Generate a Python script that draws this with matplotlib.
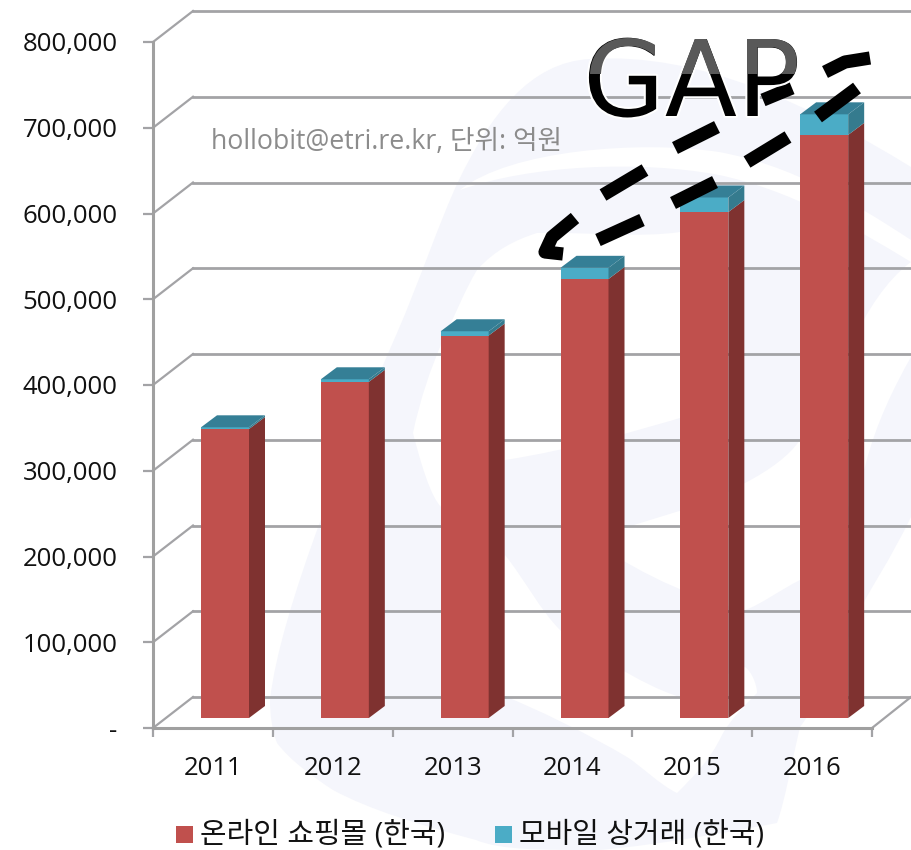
import matplotlib
matplotlib.use("Agg")
import matplotlib.pyplot as plt
import matplotlib.patheffects as pe
from matplotlib.patches import PathPatch, Polygon, Rectangle
from matplotlib.path import Path

plt.rcParams['font.family'] = ['Open Sans', 'Noto Sans CJK KR', 'DejaVu Sans']

years = ['2011', '2012', '2013', '2014', '2015', '2016']
online = [337000, 392000, 446000, 512000, 590000, 680000]
mobile = [2000, 3000, 5000, 13000, 17000, 24000]
y_ticks = [0, 100000, 200000, 300000, 400000, 500000, 600000, 700000, 800000]
y_labels = ['-', '100,000', '200,000', '300,000', '400,000', '500,000', '600,000', '700,000', '800,000']

W, H = 911, 850
fig = plt.figure(figsize=(W / 100, H / 100), dpi=100)

# background layer in pixel coords (watermark)
bg = fig.add_axes([0, 0, 1, 1], zorder=0)
bg.set_xlim(0, W)
bg.set_ylim(H, 0)
bg.axis('off')

PALE = '#f5f6fc'


def smooth(start, curves):
    # start point + list of cubic segments
    verts = [start]
    codes = [Path.MOVETO]
    for c in curves:
        verts += list(c)
        codes += [Path.CURVE4] * 3
    verts.append(start)
    codes.append(Path.CLOSEPOLY)
    return Path(verts, codes)


# pale silhouette of the logo, white cuts go on top of it
shape = smooth((270, 700), [
    ((280, 610), (350, 440), (397, 333)),
    ((420, 280), (440, 220), (458, 182)),
    ((490, 115), (530, 62), (590, 59)),
    ((700, 52), (810, 105), (911, 167)),
    ((911, 280), (911, 400), (911, 517)),
    ((890, 560), (870, 590), (865, 600)),
    ((840, 660), (820, 700), (800, 727)),
    ((790, 770), (785, 800), (777, 823)),
    ((740, 830), (660, 845), (599, 850)),
    ((540, 850), (500, 850), (476, 840)),
    ((420, 825), (370, 810), (333, 790)),
    ((310, 775), (290, 760), (277, 743)),
    ((272, 730), (270, 715), (270, 700)),
])
bg.add_patch(PathPatch(shape, fc=PALE, ec='none'))

cuts = [
    # thin stripe under the top arc
    smooth((460, 190), [((510, 150), (640, 140), (719, 152)),
                        ((790, 165), (850, 200), (911, 240)),
                        ((911, 248), (911, 255), (911, 262)),
                        ((850, 225), (790, 190), (719, 175)),
                        ((640, 160), (530, 165), (460, 190))]),
    # inner white area
    smooth((477, 270), [((495, 250), (515, 240), (537, 233)),
                        ((590, 232), (640, 238), (680, 232)),
                        ((705, 270), (715, 360), (690, 415)),
                        ((640, 430), (570, 450), (505, 460)),
                        ((480, 480), (460, 500), (445, 510)),
                        ((435, 505), (425, 480), (413, 433)),
                        ((420, 400), (430, 370), (443, 340)),
                        ((455, 315), (465, 290), (477, 270))]),
    # white swoosh on the right
    smooth((590, 540), [((640, 520), (700, 510), (745, 483)),
                        ((770, 470), (790, 455), (800, 440)),
                        ((840, 380), (860, 300), (911, 262)),
                        ((911, 290), (911, 330), (911, 357)),
                        ((895, 385), (875, 425), (865, 467)),
                        ((850, 510), (825, 555), (800, 580)),
                        ((780, 590), (760, 605), (745, 610)),
                        ((700, 600), (650, 580), (590, 540))]),
    # lower white wedge
    smooth((505, 555), [((525, 580), (540, 610), (560, 630)),
                        ((590, 650), (640, 685), (680, 697)),
                        ((705, 690), (730, 670), (745, 667)),
                        ((752, 672), (757, 685), (757, 693)),
                        ((745, 705), (730, 720), (722, 735)),
                        ((710, 760), (695, 775), (677, 793)),
                        ((660, 785), (640, 765), (627, 757)),
                        ((590, 735), (540, 710), (490, 690)),
                        ((490, 650), (495, 600), (505, 555))]),
]
for c in cuts:
    bg.add_patch(PathPatch(c, fc='white', ec='none'))

# plot axes, y value / category units through the scales
ax = fig.add_axes([153 / W, 1 - 728 / H, (872 - 153) / W, (728 - 42) / H], zorder=1)
ax.patch.set_alpha(0)
ax.set_xlim(0, 6)
ax.set_ylim(0, 800000)
for s in ['top', 'right']:
    ax.spines[s].set_visible(False)
for s in ['left', 'bottom']:
    ax.spines[s].set_color('#a0a0a0')
    ax.spines[s].set_linewidth(2.2)

per_x = 6 / (872 - 153)
per_y = 800000 / (728 - 42)
back_dx, back_dy = 40 * per_x, 31 * per_y

GRID = '#a3a3a6'
for v in y_ticks:
    ax.plot([0, back_dx], [v, v + back_dy], color=GRID, lw=1.6, clip_on=False, zorder=1)
    ax.plot([back_dx, (W - 153) * per_x], [v + back_dy, v + back_dy], color=GRID, lw=2, clip_on=False, zorder=1)
ax.plot([6, (W - 153) * per_x], [0, back_dy], color=GRID, lw=1.6, clip_on=False, zorder=1)

ax.set_xticks(range(7))
ax.set_xticklabels([])
ax.set_yticks(y_ticks)
ax.set_yticklabels(y_labels)
ax.tick_params(axis='y', length=7.5, width=1.6, color=GRID, labelsize=18.5, pad=18, labelcolor='#111111')
ax.tick_params(axis='x', length=6.5, width=1.6, color=GRID)
for i, yr in enumerate(years):
    ax.text(i + 0.5, -47000, yr, ha='center', va='center', fontsize=18.5, color='#111111')

# 3D bars
RED, RED_SIDE = '#c0504d', '#7f3230'
BLUE, BLUE_SIDE, BLUE_TOP = '#4bacc6', '#357b8e', '#357f96'
bar_w = 48 * per_x
off_x, off_y = 48 * per_x, 10 * per_y
dep_x, dep_y = 16 * per_x, 12 * per_y


def box(x, y0, y1, front, side):
    ax.add_patch(Rectangle((x, y0), bar_w, y1 - y0, fc=front, ec='none', zorder=3, clip_on=False))
    r = x + bar_w
    ax.add_patch(Polygon([(r, y0), (r + dep_x, y0 + dep_y), (r + dep_x, y1 + dep_y), (r, y1)],
                         fc=side, ec='none', zorder=3, clip_on=False))


for i in range(len(years)):
    x = i + off_x
    a = online[i] + off_y
    b = a + mobile[i]
    box(x, off_y, a, RED, RED_SIDE)
    box(x, a, b, BLUE, BLUE_SIDE)
    ax.add_patch(Polygon([(x, b), (x + bar_w, b), (x + bar_w + dep_x, b + dep_y), (x + dep_x, b + dep_y)],
                         fc=BLUE_TOP, ec='none', zorder=3, clip_on=False))

# top layer
top = fig.add_axes([0, 0, 1, 1], zorder=2)
top.set_xlim(0, W)
top.set_ylim(H, 0)
top.axis('off')

top.text(211, 142, 'hollobit@etri.re.kr, 단위: 억원', fontsize=19.2, color='#8c8c8c', va='center', ha='left')

dashes = [[(870, 58), (845, 62), (825, 72)],
          [(792, 88), (763, 100)],
          [(717, 127), (675, 148)],
          [(645, 170), (603, 195)],
          [(575, 218), (552, 237), (545, 252), (563, 254)],
          [(857, 88), (818, 117)],
          [(788, 137), (747, 162)],
          [(715, 182), (673, 203)],
          [(642, 220), (598, 240)]]
for seg in dashes:
    top.plot([p[0] for p in seg], [p[1] for p in seg], color='black', lw=9.5,
             solid_capstyle='butt', solid_joinstyle='round')

gap_kw = dict(fontsize=76, ha='left', va='baseline', family=['DejaVu Sans'])
t1 = top.text(583, 116, 'GAP', color='black',
              path_effects=[pe.withStroke(linewidth=3, foreground='white')], **gap_kw)
t2 = top.text(583, 116, 'GAP', color='#595959', **gap_kw)
t2.set_clip_path(Rectangle((0, 0), W, 74, transform=top.transData))
t2.set_clip_on(True)

# legend
top.add_patch(Rectangle((176, 826), 17, 17, fc=RED, ec='none'))
top.text(200, 835, '온라인 쇼핑몰 (한국)', fontsize=20.8, color='#111111', va='center', ha='left')
top.add_patch(Rectangle((495, 826), 17, 17, fc=BLUE, ec='none'))
top.text(519, 835, '모바일 상거래 (한국)', fontsize=20.8, color='#111111', va='center', ha='left')

fig.savefig('out.png', dpi=100, facecolor='white')
